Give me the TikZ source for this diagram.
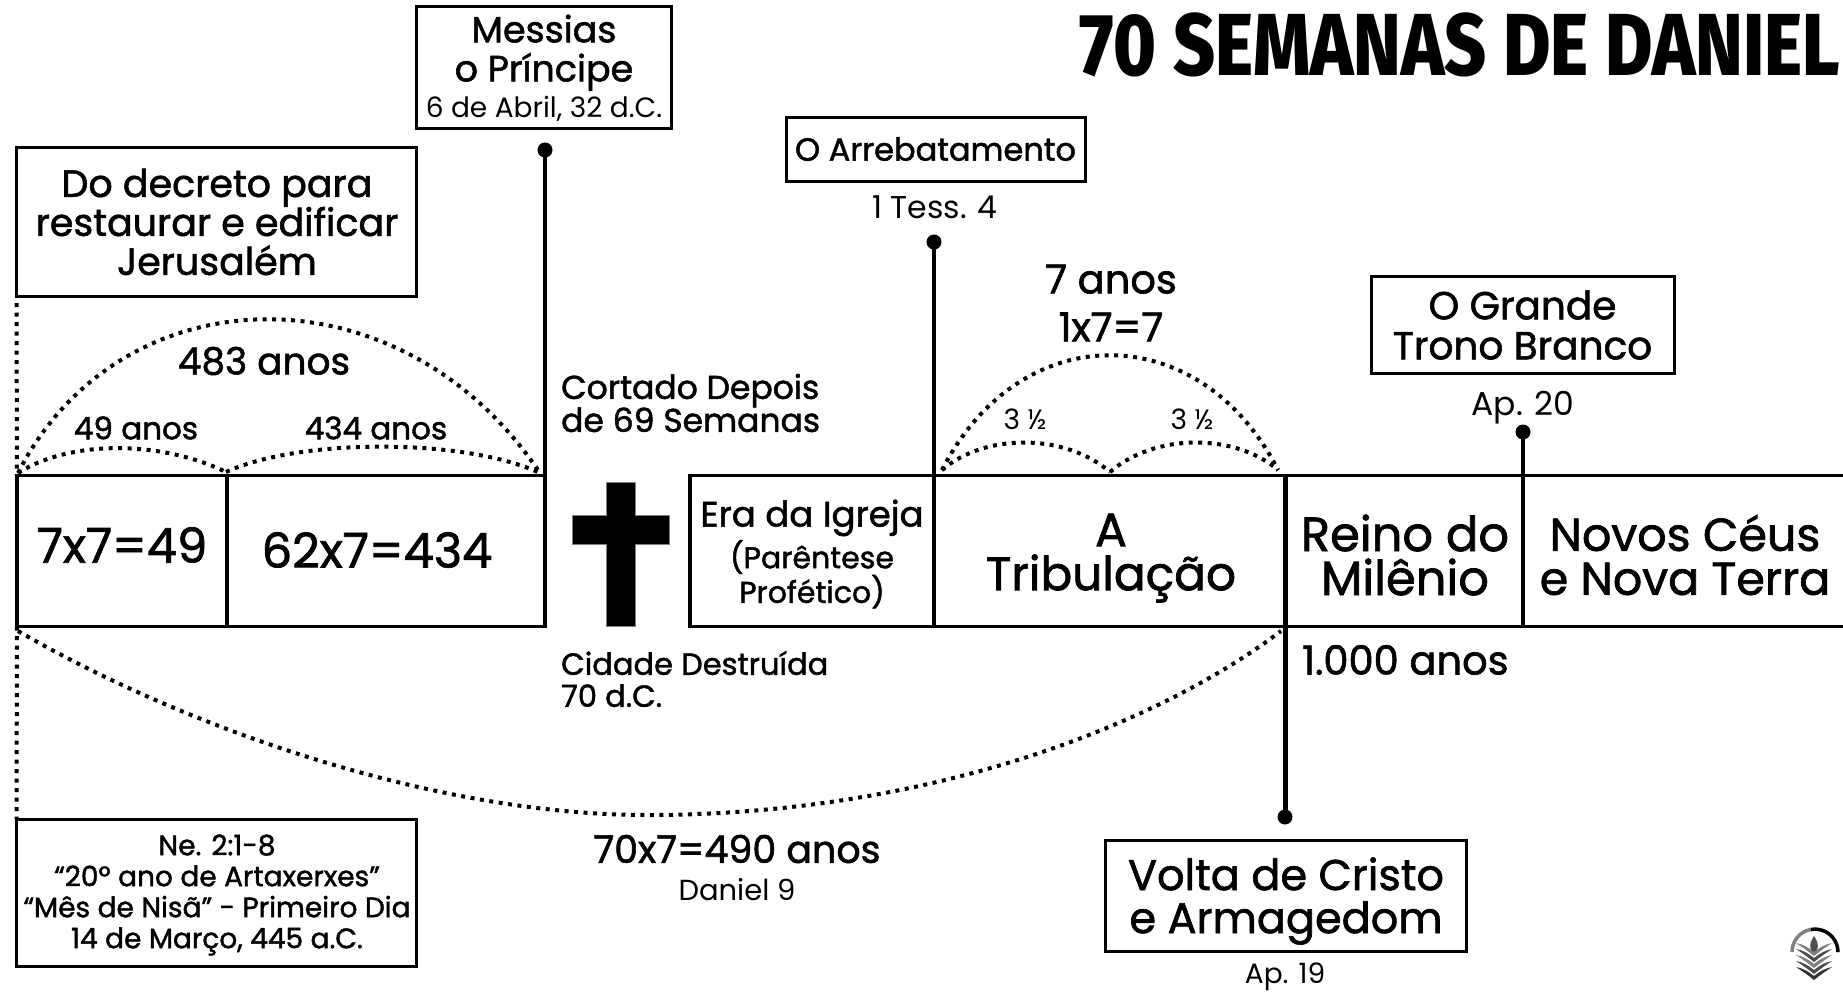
\documentclass[tikz,border=0pt]{standalone}
\usepackage{fontspec}
\setmainfont{Poppins}[FakeBold=1.5]
\newfontfamily\lightf{Poppins}
\newfontfamily\titlefont[FakeStretch=0.825]{Fira Sans ExtraBold}
\newcommand{\fsz}[2]{\fontsize{#1}{#2}\selectfont}
\tikzset{
  box/.style={draw=black,line width=3pt,fill=white,outer sep=0pt},
  cell/.style={draw=black,line width=3.5pt,outer sep=0pt,minimum height=151pt},
  lbl/.style={align=center,inner sep=0pt,text=black},
  lft/.style={align=left,inner sep=0pt,anchor=west,text=black},
  pin/.style={line width=3.5pt,draw=black},
  pindot/.style={circle,fill=black,minimum size=15pt,inner sep=0pt},
  dots/.style={line width=4pt,dash pattern=on 4pt off 5.5pt},
}
\begin{document}
\begin{tikzpicture}[x=1pt,y=-1pt]
\useasboundingbox (0,0) rectangle (1843,993);
\fill[white] (0,0) rectangle (1843,993);
% title
\node[lbl,anchor=east] (title) at (1840,45) {\fsz{88}{90}\titlefont 70 SEMANAS DE DANIEL};
% main bar
\node[cell,minimum width=210pt] (c1) at (122,551) {};
\node[cell,minimum width=318pt] (c2) at (386,551) {};
\node[cell,minimum width=244pt] (c3) at (812,551) {};
\node[cell,minimum width=351pt] (c4) at (1109.5,551) {};
\node[cell,minimum width=238pt] (c5) at (1404,551) {};
\coordinate (rt) at (1843,475.5);
\coordinate (rb) at (1843,626.5);
\draw[line width=3.5pt] (c5.north east) -- (rt) (c5.south east) -- (rb);
% cell texts
\node[lbl,font=\fsz{48}{52}] (t1) at (122,545) {7x7=49};
\node[lbl,font=\fsz{48}{52}] (t2) at (377,550) {62x7=434};
\node[lbl,font=\fsz{30}{33}] (t3) at (812,554) {\fsz{35.5}{33}Era da Igreja\\[3pt](Parêntese\\Profético)};
\node[lbl,font=\fsz{47}{44}] (t4) at (1111,558) {A\\Tribulação};
\node[lbl,font=\fsz{48}{44}] (t5) at (1405,555) {Reino do\\Milênio};
\node[lbl,font=\fsz{46}{44}] (t6) at (1685,555) {Novos Céus\\e Nova Terra};
% cross
\fill[black,draw=gray,line width=1pt] (606,482) -- (635,482) -- (635,515) -- (669,515) -- (669,544) -- (635,544) -- (635,626) -- (606,626) -- (606,544) -- (572,544) -- (572,515) -- (606,515) -- cycle;
% boxes
\node[box,minimum width=255pt,minimum height=122pt] (mes) at (544,67) {};
\node[lbl,font=\fsz{36.5}{39}] (tmes) at (544,68) {Messias\\o Príncipe\\[-3pt]\fsz{28}{36}\lightf 6 de Abril, 32 d.C.};
\node[box,minimum width=400pt,minimum height=149pt] (dec) at (216.5,221.5) {};
\node[lbl,font=\fsz{38}{39}] (tdec) at (217,222) {Do decreto para\\restaurar e edificar\\Jerusalém};
\node[box,minimum width=299pt,minimum height=64pt] (arr) at (935.5,149) {};
\node[lbl,font=\fsz{32}{36}] (tarr) at (935.5,149) {O Arrebatamento};
\node[box,minimum width=303pt,minimum height=97pt] (tro) at (1522.5,325) {};
\node[lbl,font=\fsz{39}{40}] (ttro) at (1522.5,325) {O Grande\\Trono Branco};
\node[box,minimum width=400pt,minimum height=147pt] (ne) at (216.5,893) {};
\node[lbl,font=\fsz{28}{31}] (tne) at (217,895) {Ne. 2:1-8\\“20º ano de Artaxerxes”\\“Mês de Nisã” - Primeiro Dia\\14 de Março, 445 a.C.};
\node[box,minimum width=361pt,minimum height=111pt] (vol) at (1286,896) {};
\node[lbl,font=\fsz{43}{43}] (tvol) at (1286,901) {Volta de Cristo\\e Armagedom};
% pins
\node[pindot] (dmes) at (545,150) {};
\node[pindot] (darr) at (934,242) {};
\node[pindot] (dtro) at (1523,432) {};
\node[pindot] (dvol) at (1285,817) {};
\draw[pin] (dmes.center) -- (c2.north east);
\draw[pin] (darr.center) -- (c3.north east);
\draw[pin] (dtro.center) -- (c5.north east);
\draw[line width=5pt] (c5.north west) -- (c5.south west);
\draw[line width=5pt] (dvol.center) -- (c5.south west);
% dotted side lines
\draw[dots] (dec.south west) ++(0,7) -- (c1.north west);
\draw[dots] (c1.south west) -- (ne.north west);
% arcs
\coordinate (a0) at (18,473);
\coordinate (a1) at (226,472);
\coordinate (a2) at (540,473);
\coordinate (b0) at (942,470);
\coordinate (b1) at (1110,472);
\coordinate (b2) at (1278,470);
\coordinate (l0) at (18,631);
\coordinate (l1) at (647,815);
\coordinate (l2) at (1281,631);
\draw[dots] (a0) .. controls (70,440) and (160,440) .. (a1);
\draw[dots] (a1) .. controls (300,438) and (465,438) .. (a2);
\draw[dots] (a0) .. controls (120,272) and (400,264) .. (a2);
\draw[dots] (b0) .. controls (985,433) and (1065,433) .. (b1);
\draw[dots] (b1) .. controls (1155,433) and (1235,433) .. (b2);
\draw[dots] (b0) .. controls (1020,317) and (1200,317) .. (b2);
\draw[dots] (l0) .. controls (180,725) and (430,815) .. (l1) .. controls (920,815) and (1150,730) .. (l2);
% free labels
\node[lbl] (t483) at (264,361) {\fsz{37.5}{40}483 anos};
\node[lbl] (t49) at (136,428) {\fsz{31}{32}49 anos};
\node[lbl] (t434) at (376,428) {\fsz{31}{32}434 anos};
\node[lft,font=\fsz{33}{33}] (tcor) at (561,403) {Cortado Depois\\de 69 Semanas};
\node[lft,font=\fsz{30.5}{32}] (tcid) at (561,679) {Cidade Destruída\\70 d.C.};
\node[lbl] (tt1) at (935,207) {\fsz{31.5}{32}\lightf 1 Tess. 4};
\node[lbl,font=\fsz{40}{48}] (t7) at (1111,303) {7 anos\\1x7=7};
\node[lbl] (th1) at (1025,419) {\fsz{28}{28}\lightf 3 ½};
\node[lbl] (th2) at (1192,419) {\fsz{28}{28}\lightf 3 ½};
\node[lbl] (tap20) at (1523,408) {\fsz{33}{33}\lightf Ap. 20};
\node[lft] (tmil) at (1302,660) {\fsz{40}{40}1.000 anos};
\node[lbl] (t490) at (737,849) {\fsz{38}{40}70x7=490 anos};
\node[lbl] (tdan) at (737,890) {\fsz{29}{30}\lightf Daniel 9};
\node[lbl] (tap19) at (1285,977) {\fsz{28}{30}\lightf Ap. 19};
% logo
\draw[line width=3.5pt,gray] (1792,952) arc[start angle=180,end angle=100,radius=23pt];
\draw[line width=3.5pt,black] (1811,929.5) arc[start angle=100,end angle=0,radius=23pt];
\fill[black!70] (1814,936) .. controls (1808,945) and (1810,950) .. (1814,954) .. controls (1818,950) and (1820,945) .. (1814,936) -- cycle;
\foreach \yy/\cc in {948/gray,954/black!70,960/gray,966/black!70,972/black!80}{
  \fill[\cc] (1814,\yy+4) .. controls (1808,\yy-1) and (1802,\yy-4) .. (1796,\yy-5) .. controls (1802,\yy-1) and (1808,\yy+3) .. (1814,\yy+8) .. controls (1820,\yy+3) and (1826,\yy-1) .. (1832,\yy-5) .. controls (1826,\yy-4) and (1820,\yy-1) .. (1814,\yy+4) -- cycle;
}
\end{tikzpicture}
\end{document}
